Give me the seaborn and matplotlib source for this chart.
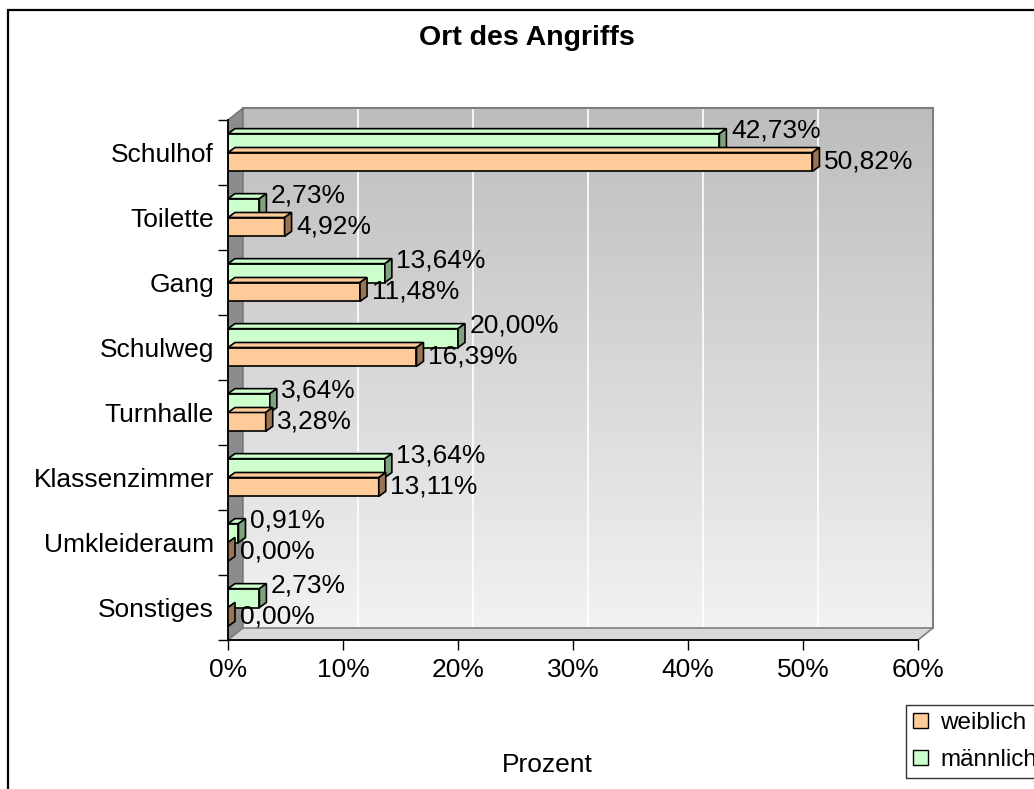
import numpy as np
import pandas as pd
import matplotlib
matplotlib.use('Agg')
import matplotlib.pyplot as plt
import seaborn as sns
from matplotlib.patches import Polygon, Rectangle, Patch
from matplotlib.colors import LinearSegmentedColormap

# Daten
orte = ['Schulhof', 'Toilette', 'Gang', 'Schulweg', 'Turnhalle',
        'Klassenzimmer', 'Umkleideraum', 'Sonstiges']
weiblich = [50.82, 4.92, 11.48, 16.39, 3.28, 13.11, 0.00, 0.00]
maennlich = [42.73, 2.73, 13.64, 20.00, 3.64, 13.64, 0.91, 2.73]
x_ticks = [0, 10, 20, 30, 40, 50, 60]

W, H = 1034, 789


def fx(x):
    return x / W


def fy(y):
    return 1 - y / H


sns.set_theme(style='white')
plt.rcParams['font.family'] = ['Liberation Sans', 'DejaVu Sans']
plt.rcParams['text.color'] = 'black'
plt.rcParams['axes.labelcolor'] = 'black'
plt.rcParams['xtick.color'] = 'black'
plt.rcParams['ytick.color'] = 'black'

fig = plt.figure(figsize=(W / 100, H / 100), dpi=100)
fig.patch.set_facecolor('white')

# Vorderebene des Diagramms (Pixel) und 3D-Tiefe
X0, X1, Y0, Y1 = 228, 918, 120, 640
DX, DY = 15, 12

# Rückwand mit Verlauf
bg = fig.add_axes([fx(X0 + DX), fy(Y1 - DY), (X1 - X0) / W, (Y1 - Y0) / H])
cmap = LinearSegmentedColormap.from_list('wand', ['#f2f2f2', '#bdbdbd'])
bg.imshow(np.linspace(0, 1, 256).reshape(-1, 1), cmap=cmap, aspect='auto',
          extent=[0, 60, 0, 1], origin='lower')
for t in x_ticks[1:-1]:
    bg.axvline(t, color='white', lw=1.2)
bg.set_xlim(0, 60)
bg.set_ylim(0, 1)
bg.set_xticks([])
bg.set_yticks([])
for s in ['left', 'bottom']:
    bg.spines[s].set_visible(False)
for s in ['top', 'right']:
    bg.spines[s].set_color('#808080')
    bg.spines[s].set_linewidth(1.5)

# Seitenwand und Boden
seite = Polygon([(fx(X0), fy(Y0)), (fx(X0 + DX), fy(Y0 - DY)),
                 (fx(X0 + DX), fy(Y1 - DY)), (fx(X0), fy(Y1))],
                closed=True, transform=fig.transFigure, facecolor='#8c8c8c',
                edgecolor='#707070', lw=1, zorder=1)
boden = Polygon([(fx(X0), fy(Y1)), (fx(X0 + DX), fy(Y1 - DY)),
                 (fx(X1 + DX), fy(Y1 - DY)), (fx(X1), fy(Y1))],
                closed=True, transform=fig.transFigure, facecolor='#d9d9d9',
                edgecolor='#808080', lw=1.2, zorder=1)
fig.add_artist(seite)
fig.add_artist(boden)

# Balken
ax = fig.add_axes([fx(X0), fy(Y1), (X1 - X0) / W, (Y1 - Y0) / H])
ax.set_zorder(2)
ax.patch.set_alpha(0)

df = pd.DataFrame({
    'Ort': orte * 2,
    'Prozent': maennlich + weiblich,
    'Geschlecht': ['männlich'] * len(orte) + ['weiblich'] * len(orte),
})
farben = {'männlich': '#CCFFCC', 'weiblich': '#FFCC99'}
seitenfarben = {'männlich': '#7fa37f', 'weiblich': '#9c7452'}
hue_order = ['männlich', 'weiblich']

sns.barplot(data=df, y='Ort', x='Prozent', hue='Geschlecht', hue_order=hue_order,
            palette=farben, saturation=1, orient='h', width=0.58,
            edgecolor='black', linewidth=1.2, ax=ax, legend=False, errorbar=None)

ax.set_xlim(0, 60)
ax.set_ylim(7.5, -0.5)

dx = 7 * 60 / (X1 - X0)
dy = 5 * 8 / (Y1 - Y0)

for g, cont in zip(hue_order, ax.containers):
    for bar in cont:
        x1 = bar.get_width()
        y0 = bar.get_y()
        y1 = y0 + bar.get_height()
        oben = Polygon([(0, y0), (dx, y0 - dy), (x1 + dx, y0 - dy), (x1, y0)],
                       closed=True, facecolor=farben[g], edgecolor='black',
                       lw=1.2, clip_on=False, zorder=3)
        rechts = Polygon([(x1, y0), (x1 + dx, y0 - dy), (x1 + dx, y1 - dy), (x1, y1)],
                         closed=True, facecolor=seitenfarben[g], edgecolor='black',
                         lw=1.2, clip_on=False, zorder=3)
        ax.add_patch(oben)
        ax.add_patch(rechts)
        lab = f'{x1:.2f}'.replace('.', ',') + '%'
        yc = (y0 + y1) / 2
        if g == 'männlich':
            yc -= 0.2
        ax.text(x1 + dx + 0.4, yc, lab, ha='left', va='center', fontsize=19,
                color='black', clip_on=False)

# Achsen
ax.set_xticks(x_ticks, [f'{t}%' for t in x_ticks])
ax.set_yticks(range(len(orte)), orte)
ax.set_yticks(np.arange(-0.5, len(orte), 1), minor=True)
ax.tick_params(axis='x', which='major', length=7.2, width=1, color='black',
               pad=6, labelsize=19, bottom=True, labelcolor='black')
ax.tick_params(axis='y', which='major', length=0, pad=10, labelsize=19,
               labelcolor='black')
ax.tick_params(axis='y', which='minor', length=7.2, width=1, color='black', left=True)
ax.set_xlabel('')
ax.set_ylabel('')
for s in ['top', 'right']:
    ax.spines[s].set_visible(False)
for s in ['left', 'bottom']:
    ax.spines[s].set_color('black')
    ax.spines[s].set_linewidth(1.3)

# Texte
fig.text(fx(527), fy(38), 'Ort des Angriffs', ha='center', va='center',
         fontsize=20.5, fontweight='bold', color='black')
fig.text(fx(547), fy(765), 'Prozent', ha='center', va='center', fontsize=19,
         color='black')

# Legende
handles = [Patch(facecolor=farben['weiblich'], edgecolor='black', label='weiblich'),
           Patch(facecolor=farben['männlich'], edgecolor='black', label='männlich')]
leg = fig.legend(handles=handles, loc='upper left', bbox_to_anchor=(fx(906), fy(705)),
                 frameon=True, fancybox=False, fontsize=17.5, handlelength=0.6,
                 handleheight=0.6, handletextpad=0.5, borderaxespad=0,
                 borderpad=0.3, labelspacing=0.6)
leg.get_frame().set_edgecolor('black')
leg.get_frame().set_linewidth(1)
for t in leg.get_texts():
    t.set_color('black')

# Äußerer Rahmen
rahmen = Rectangle((fx(8), fy(H + 20)), (W + 20) / W, (H + 10) / H,
                   transform=fig.transFigure, fill=False, edgecolor='black',
                   lw=1.6, zorder=5)
fig.add_artist(rahmen)

fig.savefig('out.png', dpi=100)
